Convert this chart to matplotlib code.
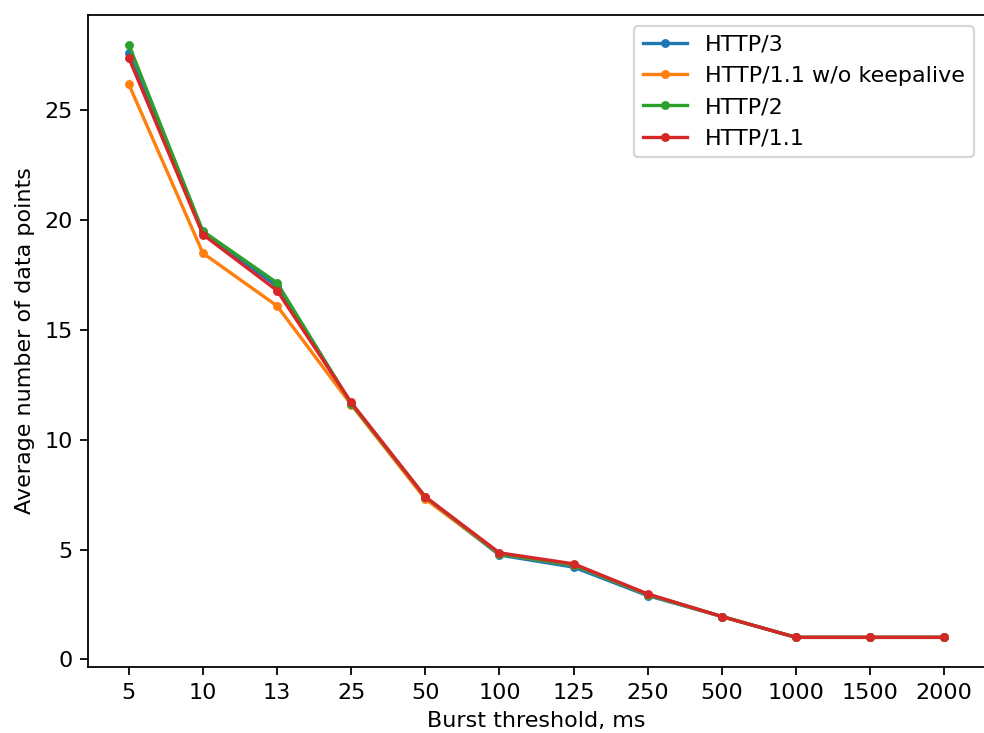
import matplotlib
matplotlib.use("Agg")
import matplotlib.pyplot as plt

thresholds = ["5", "10", "13", "25", "50", "100", "125", "250", "500", "1000", "1500", "2000"]

http3 = [27.6, 19.45, 17.0, 11.65, 7.35, 4.75, 4.2, 2.9, 1.95, 1.0, 1.0, 1.0]
http11_nokeepalive = [26.2, 18.5, 16.1, 11.6, 7.3, 4.8, 4.3, 2.95, 1.95, 1.0, 1.0, 1.0]
http2 = [28.0, 19.5, 17.15, 11.65, 7.4, 4.8, 4.3, 2.95, 1.95, 1.0, 1.0, 1.0]
http11 = [27.4, 19.35, 16.8, 11.7, 7.4, 4.85, 4.35, 2.98, 1.95, 1.0, 1.0, 1.0]

dpi = 160
fig = plt.figure(figsize=(984 / dpi, 733 / dpi), dpi=dpi)
# axes box in pixels: left 88, right 985, top 15, bottom 667
ax = fig.add_axes([88 / 984, 1 - 667 / 733, (985 - 88) / 984, (667 - 15) / 733])

x = range(len(thresholds))
ax.plot(x, http3, marker=".", label="HTTP/3")
ax.plot(x, http11_nokeepalive, marker=".", label="HTTP/1.1 w/o keepalive")
ax.plot(x, http2, marker=".", label="HTTP/2")
ax.plot(x, http11, marker=".", label="HTTP/1.1")

ax.set_xticks(list(x))
ax.set_xticklabels(thresholds)
ax.set_xlabel("Burst threshold, ms")
ax.set_ylabel("Average number of data points")
ax.legend(loc="upper right")

fig.savefig("out.png", dpi=dpi)
